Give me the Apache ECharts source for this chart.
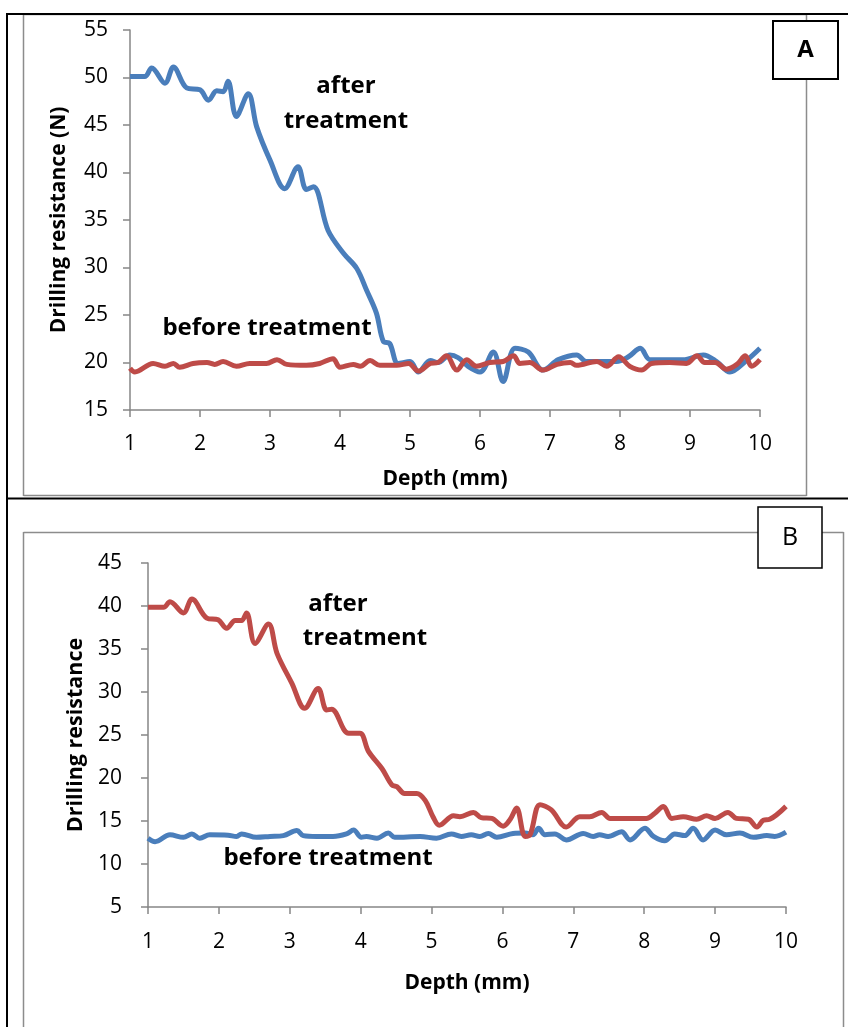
<!DOCTYPE html>
<html>
<head>
<meta charset="utf-8">
<script src="https://cdn.jsdelivr.net/npm/echarts@6/dist/echarts.min.js"></script>
<style>
	html, body { margin: 0; padding: 0; background: #fff; }
	#drillChart { width: 848px; height: 1027px; }
</style>
</head>
<body>
<div id="drillChart"></div>
<script>
// panel A
var aAfterDepth = [1.0, 1.21, 1.31, 1.5, 1.62, 1.81, 2.0, 2.12, 2.24, 2.33, 2.4, 2.52, 2.69, 2.81, 3.0, 3.21, 3.4, 3.52, 3.62, 3.83, 4.05, 4.24, 4.38, 4.52, 4.62, 4.71, 4.83, 5.0, 5.12, 5.29, 5.4, 5.57, 5.69, 5.83, 6.0, 6.19, 6.33, 6.5, 6.69, 6.9, 7.12, 7.38, 7.52, 7.95, 8.12, 8.29, 8.43, 8.9, 9.19, 9.38, 9.57, 9.79, 10.0]
var aAfterValue = [50.1, 50.1, 51.0, 49.4, 51.1, 48.9, 48.7, 47.6, 48.6, 48.5, 49.6, 45.9, 48.3, 44.8, 41.3, 38.3, 40.6, 38.2, 38.5, 33.9, 31.5, 29.9, 27.6, 25.2, 22.2, 22.0, 19.9, 20.1, 19.0, 20.2, 20.0, 20.8, 20.5, 19.6, 19.0, 21.1, 18.0, 21.5, 21.1, 19.2, 20.3, 20.8, 20.1, 20.1, 20.6, 21.5, 20.3, 20.3, 20.8, 20.1, 19.0, 20.1, 21.5]
var aBeforeDepth = [1.0, 1.07, 1.33, 1.5, 1.62, 1.71, 1.9, 2.1, 2.21, 2.33, 2.52, 2.71, 2.95, 3.1, 3.24, 3.52, 3.71, 3.9, 4.0, 4.19, 4.29, 4.43, 4.57, 4.81, 4.98, 5.12, 5.29, 5.4, 5.52, 5.67, 5.81, 5.95, 6.14, 6.33, 6.48, 6.57, 6.71, 6.9, 7.1, 7.29, 7.38, 7.67, 7.81, 7.98, 8.14, 8.31, 8.45, 8.71, 8.95, 9.1, 9.21, 9.36, 9.52, 9.67, 9.79, 9.88, 10.0]
var aBeforeValue = [19.4, 19.0, 19.9, 19.6, 19.9, 19.5, 19.9, 20.0, 19.8, 20.1, 19.6, 19.9, 19.9, 20.3, 19.8, 19.7, 19.9, 20.4, 19.5, 19.8, 19.6, 20.2, 19.7, 19.7, 19.9, 19.1, 19.9, 20.0, 20.7, 19.2, 20.3, 19.6, 20.0, 20.1, 20.7, 19.9, 20.0, 19.2, 19.8, 20.0, 19.7, 20.1, 19.6, 20.6, 19.6, 19.2, 19.9, 20.0, 19.9, 20.7, 20.0, 20.0, 19.3, 19.8, 20.7, 19.6, 20.3]

// panel B
var bAfterDepth = [1.0, 1.22, 1.31, 1.5, 1.62, 1.83, 1.99, 2.11, 2.23, 2.32, 2.39, 2.51, 2.7, 2.82, 3.03, 3.21, 3.4, 3.52, 3.59, 3.83, 3.99, 4.11, 4.3, 4.44, 4.51, 4.62, 4.79, 4.91, 5.02, 5.11, 5.31, 5.4, 5.59, 5.7, 5.85, 6.01, 6.11, 6.2, 6.32, 6.39, 6.53, 6.69, 6.9, 7.09, 7.23, 7.4, 7.52, 8.03, 8.15, 8.27, 8.39, 8.55, 8.74, 8.88, 9.0, 9.18, 9.3, 9.47, 9.59, 9.68, 9.77, 10.0]
var bAfterValue = [39.85, 39.85, 40.5, 39.2, 40.8, 38.6, 38.4, 37.4, 38.3, 38.3, 39.2, 35.65, 37.9, 34.5, 31.0, 28.1, 30.4, 27.9, 28.0, 25.2, 25.2, 23.1, 21.1, 19.2, 19.0, 18.2, 18.2, 17.4, 15.5, 14.5, 15.6, 15.5, 16.0, 15.4, 15.3, 14.4, 15.2, 16.5, 13.2, 13.4, 16.9, 16.3, 14.3, 15.5, 15.5, 16.0, 15.3, 15.3, 15.9, 16.7, 15.3, 15.5, 15.2, 15.6, 15.3, 16.0, 15.3, 15.2, 14.3, 15.1, 15.2, 16.7]
var bBeforeDepth = [1.0, 1.1, 1.31, 1.5, 1.62, 1.73, 1.87, 2.13, 2.25, 2.32, 2.53, 2.72, 2.91, 3.1, 3.19, 3.38, 3.61, 3.8, 3.9, 4.01, 4.08, 4.23, 4.39, 4.48, 4.84, 5.07, 5.28, 5.42, 5.56, 5.68, 5.8, 5.92, 6.15, 6.32, 6.43, 6.51, 6.6, 6.74, 6.9, 7.14, 7.28, 7.37, 7.49, 7.68, 7.8, 8.01, 8.13, 8.29, 8.43, 8.57, 8.69, 8.83, 9.0, 9.16, 9.35, 9.54, 9.73, 9.84, 10.0]
var bBeforeValue = [13.0, 12.6, 13.4, 13.1, 13.5, 13.0, 13.4, 13.35, 13.2, 13.5, 13.1, 13.2, 13.3, 13.9, 13.3, 13.2, 13.2, 13.5, 13.95, 13.1, 13.2, 13.0, 13.6, 13.1, 13.2, 13.0, 13.5, 13.2, 13.4, 13.2, 13.55, 13.1, 13.55, 13.6, 13.4, 14.15, 13.4, 13.5, 12.8, 13.55, 13.2, 13.4, 13.2, 13.75, 12.8, 14.15, 13.2, 12.7, 13.5, 13.3, 14.15, 12.8, 13.95, 13.4, 13.6, 13.1, 13.3, 13.2, 13.7]

var blue = "#4a7ebb"
var red = "#be4b48"
var axisGray = "#868686"
var frameGray = "#8c8c8c"
var fontFam = "'Open Sans', 'Noto Sans', sans-serif"

function pairs(xs, ys) {
	return xs.map(function (x, i) { return [x, ys[i]] })
}

function xAxisFor(gridIndex, nameGap, labelMargin) {
	return {
		gridIndex: gridIndex,
		type: "value",
		min: 1,
		max: 10,
		interval: 1,
		name: "Depth (mm)",
		nameLocation: "middle",
		nameGap: nameGap,
		nameTextStyle: { fontFamily: fontFam, fontWeight: "bold", fontSize: 21, color: "#000" },
		axisLine: { lineStyle: { color: axisGray, width: 1.5 } },
		axisTick: { length: 7, lineStyle: { color: axisGray, width: 1.5 } },
		axisLabel: { fontFamily: fontFam, fontSize: 21, color: "#000", margin: labelMargin },
		splitLine: { show: false }
	}
}

function yAxisFor(gridIndex, min, max, name, nameSize, nameGap, labelMargin) {
	return {
		gridIndex: gridIndex,
		type: "value",
		min: min,
		max: max,
		interval: 5,
		name: name,
		nameLocation: "middle",
		nameGap: nameGap,
		nameTextStyle: { fontFamily: fontFam, fontWeight: "bold", fontSize: nameSize, color: "#000" },
		axisLine: { show: true, lineStyle: { color: axisGray, width: 1.5 } },
		axisTick: { show: true, length: 7, lineStyle: { color: axisGray, width: 1.5 } },
		axisLabel: { fontFamily: fontFam, fontSize: 21, color: "#000", margin: labelMargin },
		splitLine: { show: false }
	}
}

function lineSeries(xi, data, color, z) {
	return {
		type: "line",
		xAxisIndex: xi,
		yAxisIndex: xi,
		data: data,
		smooth: 0.35,
		symbol: "none",
		z: z,
		lineStyle: { color: color, width: 5 },
		itemStyle: { color: color }
	}
}

function note(text, x, y, size, bold) {
	return {
		type: "text",
		z: 100,
		style: {
			text: text,
			x: x,
			y: y,
			align: "center",
			verticalAlign: "middle",
			font: (bold ? "bold " : "") + size + "px " + fontFam,
			fill: "#000"
		}
	}
}

function hline(x1, x2, y, color, w) {
	return { type: "line", z: 50, shape: { x1: x1, y1: y, x2: x2, y2: y }, style: { stroke: color, lineWidth: w } }
}
function vline(x, y1, y2, color, w) {
	return { type: "line", z: 50, shape: { x1: x, y1: y1, x2: x, y2: y2 }, style: { stroke: color, lineWidth: w } }
}

var option = {
	animation: false,
	backgroundColor: "#fff",
	grid: [
		{ left: 130, top: 30, width: 630, height: 380 },
		{ left: 148, top: 563, width: 638, height: 344 }
	],
	xAxis: [xAxisFor(0, 59, 24), xAxisFor(1, 66, 25)],
	yAxis: [
		yAxisFor(0, 15, 55, "Drilling resistance (N)", 21, 60, 22),
		yAxisFor(1, 5, 45, "Drilling resistance", 21.5, 61, 26)
	],
	series: [
		lineSeries(0, pairs(aAfterDepth, aAfterValue), blue, 2),
		lineSeries(0, pairs(aBeforeDepth, aBeforeValue), red, 3),
		lineSeries(1, pairs(bBeforeDepth, bBeforeValue), blue, 2),
		lineSeries(1, pairs(bAfterDepth, bAfterValue), red, 3)
	],
	graphic: [
		// chart area frames (gray)
		hline(23.5, 806.5, 14.5, frameGray, 1.5),
		vline(23.5, 14, 496, frameGray, 1.5),
		vline(806.5, 14, 496, frameGray, 1.5),
		hline(23.5, 806.5, 495.5, frameGray, 1.5),
		hline(23.5, 843.5, 532.5, frameGray, 1.5),
		vline(23.5, 532, 1027, frameGray, 1.5),
		vline(843.5, 532, 1027, frameGray, 1.5),
		// table borders (black)
		hline(7, 848, 14, "#000", 2),
		hline(7, 848, 498.5, "#000", 2),
		vline(7, 13, 1027, "#000", 2),
		// panel labels
		{ type: "rect", z: 60, shape: { x: 773, y: 21, width: 65, height: 58 }, style: { fill: "#fff", stroke: "#000", lineWidth: 2 } },
		note("A", 805.5, 50, 24, true),
		{ type: "rect", z: 60, shape: { x: 758, y: 507, width: 64, height: 61 }, style: { fill: "#fff", stroke: "#000", lineWidth: 1.5 } },
		note("B", 790, 537.5, 25, false),
		// curve notes
		note("after", 346, 86, 24, true),
		note("treatment", 346, 121, 24, true),
		note("before treatment", 267, 328, 24, true),
		note("after", 338, 604, 24, true),
		note("treatment", 365, 638, 24, true),
		note("before treatment", 328, 858, 24, true)
	]
}

var myChart = echarts.init(document.getElementById("drillChart"))
myChart.setOption(option)
</script>
</body>
</html>
